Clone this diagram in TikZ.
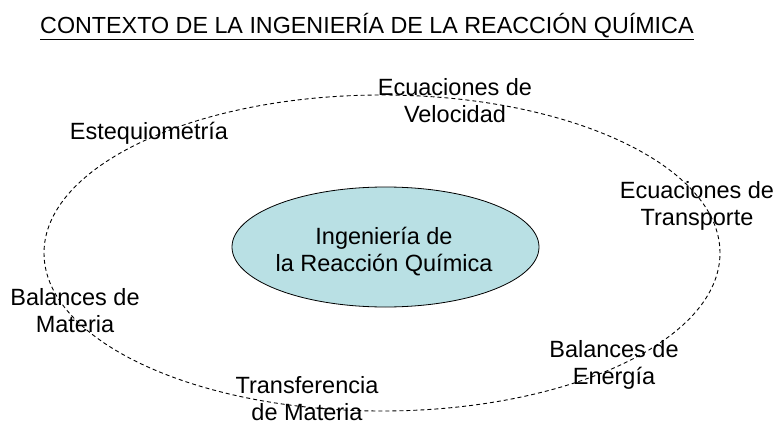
\documentclass[tikz,border=0pt]{standalone}
\usepackage{fontspec}
\setmainfont{Liberation Sans}
\usetikzlibrary{shapes.geometric}
\definecolor{corefill}{RGB}{185,224,228}
\setlength\tabcolsep{0pt}
\newcommand\twolines[2]{\begin{tabular}[t]{@{}c@{}}#1\\#2\end{tabular}}
\begin{document}
\begin{tikzpicture}[x=1pt,y=-1pt,
  lbl/.style={anchor=base, inner sep=0pt, font=\fontsize{23.5}{27.5}\selectfont},
  ring/.style={draw=black, line width=0.9pt, dash pattern=on 4pt off 3pt},
  core/.style={ellipse, draw=black, line width=0.8pt, fill=corefill, minimum width=307pt, minimum height=120pt, inner sep=0pt}]
\useasboundingbox (0,0) rectangle (780,423);
% title
\node[anchor=base west, inner sep=0pt, font=\fontsize{23.3}{28}\selectfont] (title) at (40,34) {CONTEXTO DE LA INGENIERÍA DE LA REACCIÓN QUÍMICA};
\draw[line width=1.3pt] ([yshift=-5.5pt]title.base west) -- ([yshift=-5.5pt]title.base east);
% dashed ring
\coordinate (ringc) at (382,253);
\draw[ring] (ringc) ellipse [x radius=338pt, y radius=158pt];
% central ellipse
\node[core] (core) at (385.5,247) {};
\node[lbl] (coretext) at (384,244) {\twolines{Ingeniería de}{la Reacción Química}};
% labels
\node[lbl] (esteq) at (149,139) {Estequiometría};
\node[lbl] (veloc) at (455,95) {\twolines{Ecuaciones de}{Velocidad}};
\node[lbl] (transp) at (697,198) {\twolines{Ecuaciones de}{Transporte}};
\node[lbl] (balmat) at (75,305) {\twolines{Balances de}{Materia}};
\node[lbl] (balene) at (614,357) {\twolines{Balances de}{Energía}};
\node[lbl] (transf) at (307,393) {\twolines{Transferencia}{de Materia}};
\end{tikzpicture}
\end{document}
